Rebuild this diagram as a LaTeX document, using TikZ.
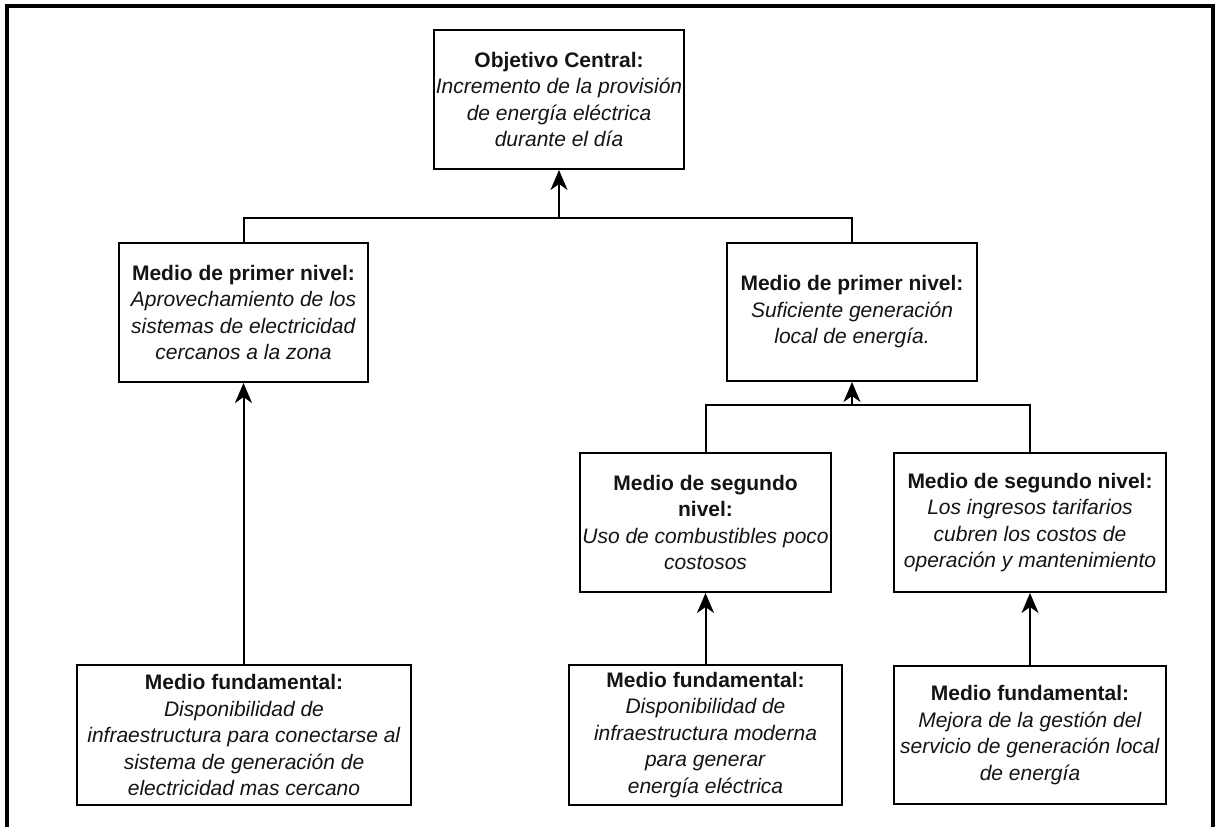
\documentclass[tikz,border=0pt]{standalone}
\usepackage{fontspec}
\setmainfont{Liberation Sans}
\usetikzlibrary{arrows.meta}
\begin{document}
\begin{tikzpicture}[x=1pt,y=-1pt,
  box/.style={draw=black,line width=2pt,rectangle,inner sep=0pt,align=center,
    text=black!92,font=\fontsize{21}{26.5}\selectfont},
  link/.style={line width=2pt,draw=black},
  uparrow/.style={link,-{Stealth[length=20pt,width=17pt,inset=6pt]}},
  frameline/.style={line width=3.3pt,draw=black}]
\useasboundingbox (0,0) rectangle (1217,827);
% open page frame (left, top, right)
\draw[frameline] (7,827) -- (7,6) -- (1213,6) -- (1213,827);

% central objective
\node[box,minimum width=250pt,minimum height=139pt] (obj) at (559,99.5)
  {\textbf{Objetivo Central:}\\\textit{Incremento de la provisión}\\\textit{de energía eléctrica}\\\textit{durante el día}};

% first-level means
\node[box,minimum width=249pt,minimum height=139pt] (m1a) at (243.5,312.5)
  {\textbf{Medio de primer nivel:}\\\textit{Aprovechamiento de los}\\\textit{sistemas de electricidad}\\\textit{cercanos a la zona}};
\node[box,minimum width=250pt,minimum height=138pt] (m1b) at (852,312)
  {\textbf{Medio de primer nivel:}\\\textit{Suficiente generación}\\\textit{local de energía.}};

% second-level means
\node[box,minimum width=251pt,minimum height=139pt] (m2a) at (705.5,522.5)
  {\textbf{Medio de segundo}\\\textbf{nivel:}\\\textit{Uso de combustibles poco}\\\textit{costosos}};
\node[box,minimum width=272pt,minimum height=139pt] (m2b) at (1030,522.5)
  {\textbf{Medio de segundo nivel:}\\\textit{Los ingresos tarifarios}\\\textit{cubren los costos de}\\\textit{operación y mantenimiento}};

% fundamental means
\node[box,minimum width=334pt,minimum height=140pt] (fa) at (244,735)
  {\textbf{Medio fundamental:}\\\textit{Disponibilidad de}\\\textit{infraestructura para conectarse al}\\\textit{sistema de generación de}\\\textit{electricidad mas cercano}};
\node[box,minimum width=273pt,minimum height=140pt] (fb) at (705.5,735)
  {\textbf{Medio fundamental:}\\\textit{Disponibilidad de}\\\textit{infraestructura moderna}\\\textit{para generar}\\\textit{energía eléctrica}};
\node[box,minimum width=272pt,minimum height=138pt] (fc) at (1030,735)
  {\textbf{Medio fundamental:}\\\textit{Mejora de la gestión del}\\\textit{servicio de generación local}\\\textit{de energía}};

% junction points of the branch lines
\coordinate (j1) at (559,218);
\coordinate (j2) at (852,405);

% connectors
\draw[link] (m1a.north) |- (j1) -| (m1b.north);
\draw[uparrow] (j1) -- (obj.south);
\draw[link] (m2a.north) |- (j2) -| (m2b.north);
\draw[uparrow] (j2) -- (m1b.south);
\draw[uparrow] (m1a.south |- fa.north) -- (m1a.south);
\draw[uparrow] (fb.north) -- (m2a.south);
\draw[uparrow] (fc.north) -- (m2b.south);
\end{tikzpicture}
\end{document}
